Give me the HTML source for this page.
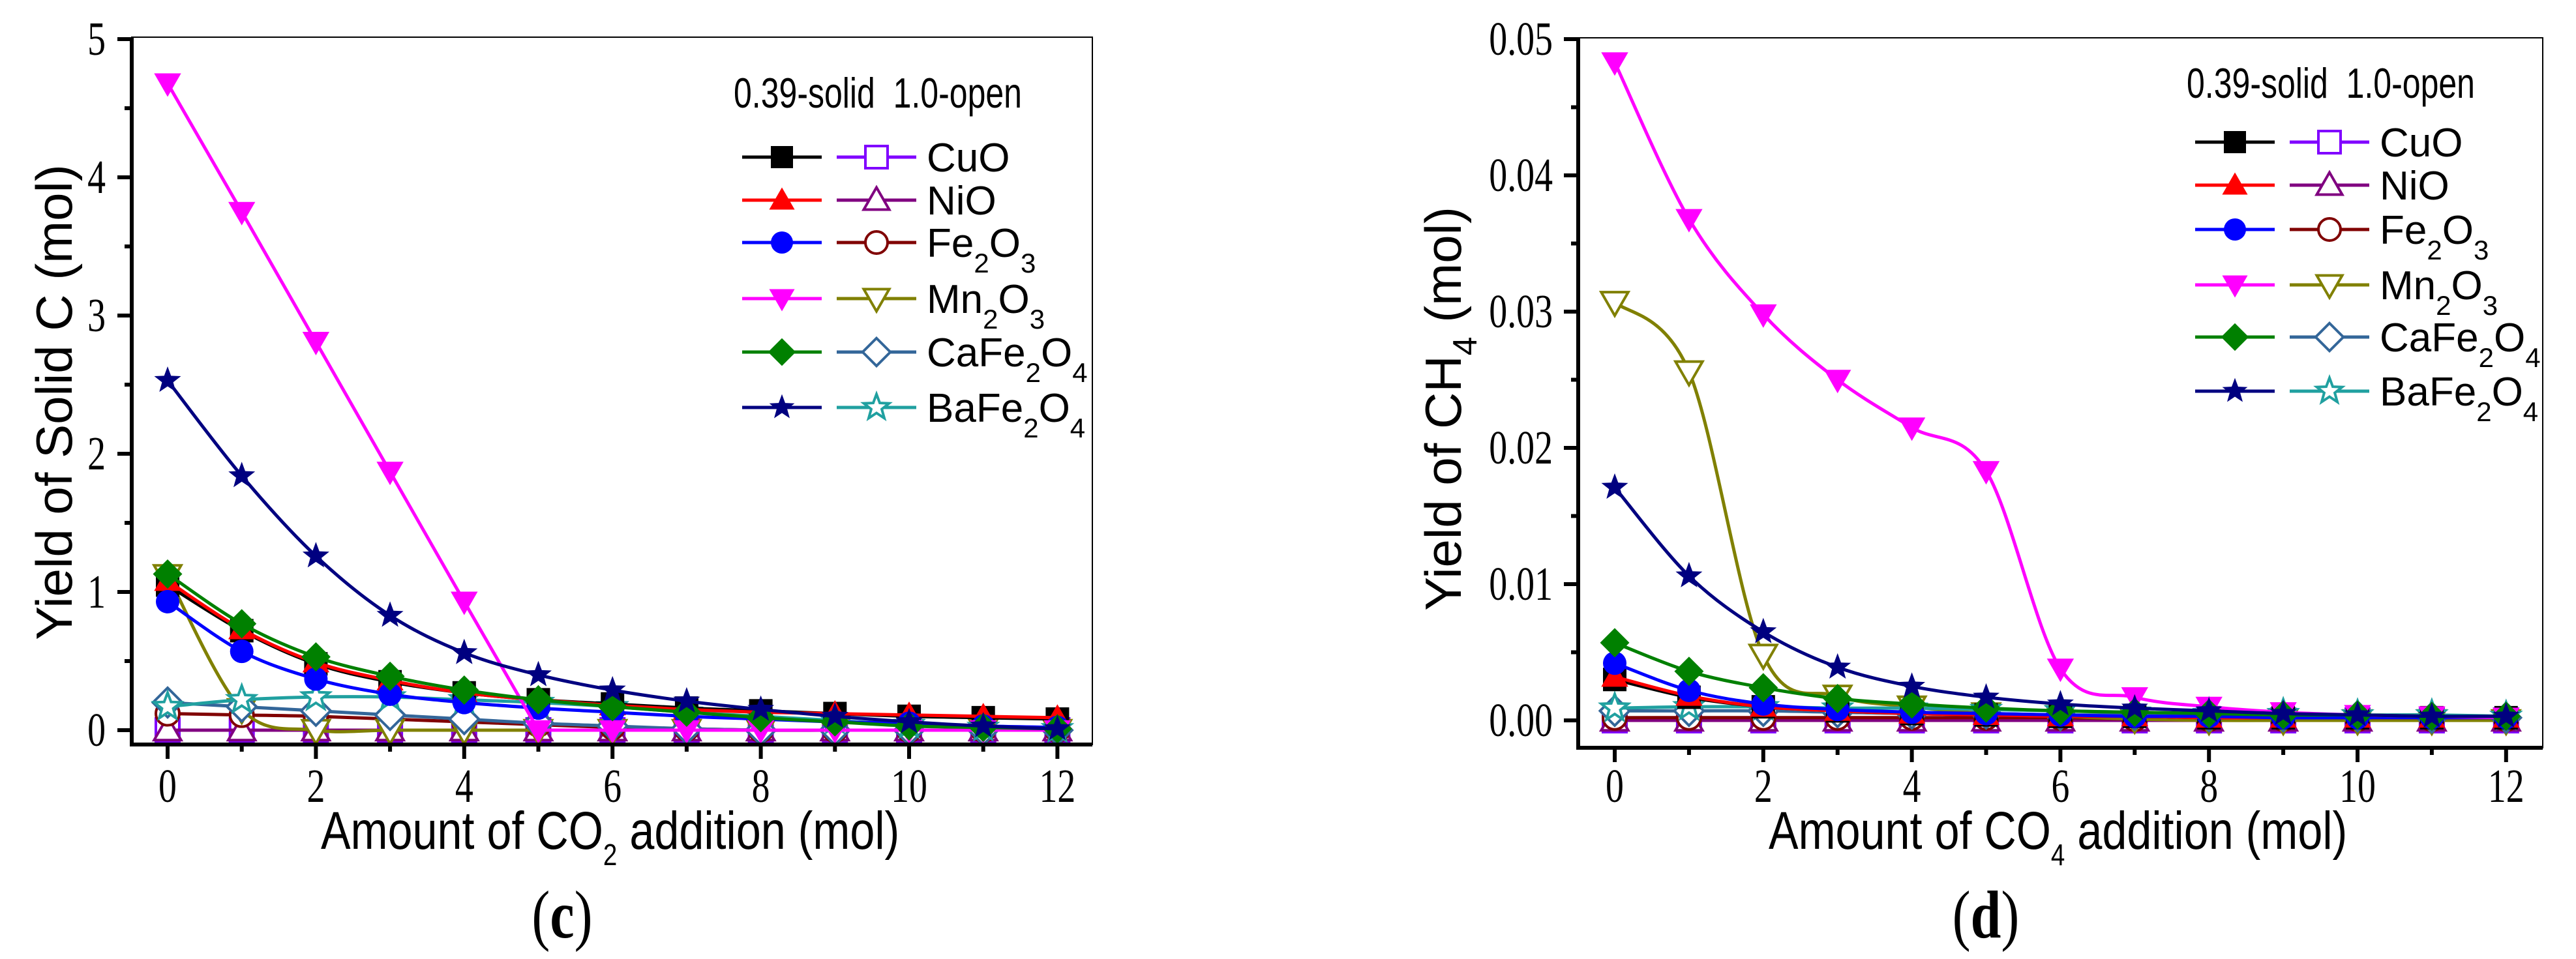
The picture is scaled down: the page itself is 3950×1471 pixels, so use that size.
<!DOCTYPE html>
<html><head><meta charset="utf-8"><style>
html,body{margin:0;padding:0;background:#fff;}
svg{display:block;}
</style></head><body>
<svg id="fig" xmlns="http://www.w3.org/2000/svg" width="3950" height="1471" viewBox="0 0 3950 1471">
<rect x="0" y="0" width="3950" height="1471" fill="#fff"/>
</svg>
<script>
// ---------- data ----------
const xValues = [0,1,2,3,4,5,6,7,8,9,10,11,12];
const materials = ['CuO','NiO','Fe2O3','Mn2O3','CaFe2O4','BaFe2O4'];
const yTicksC = [0,1,2,3,4,5];
const yTickLabelsC = ['0','1','2','3','4','5'];
const yTicksD = [0,0.01,0.02,0.03,0.04,0.05];
const yTickLabelsD = ['0.00','0.01','0.02','0.03','0.04','0.05'];
const xTickLabels = ['0','2','4','6','8','10','12'];

// panel (c) - solid (0.39)
const cSolidCuO = [1.05,0.72,0.48,0.35,0.27,0.22,0.19,0.16,0.14,0.12,0.10,0.09,0.08];
const cSolidNiO = [1.08,0.73,0.49,0.36,0.27,0.22,0.18,0.15,0.13,0.12,0.11,0.10,0.09];
const cSolidFe2O3 = [0.93,0.57,0.37,0.26,0.20,0.16,0.13,0.10,0.08,0.06,0.05,0.03,0.02];
const cSolidMn2O3 = [4.68,3.75,2.81,1.87,0.93,0,0,0,0,0,0,0,0];
const cSolidCaFe2O4 = [1.13,0.77,0.53,0.39,0.29,0.22,0.17,0.13,0.09,0.06,0.03,0.02,0.01];
const cSolidBaFe2O4 = [2.53,1.84,1.26,0.83,0.56,0.40,0.29,0.21,0.15,0.10,0.06,0.03,0.01];
// panel (c) - open (1.0)
const cOpenCuO = [0,0,0,0,0,0,0,0,0,0,0,0,0];
const cOpenNiO = [0,0,0,0,0,0,0,0,0,0,0,0,0];
const cOpenFe2O3 = [0.12,0.11,0.10,0.08,0.06,0.04,0.02,0.01,0,0,0,0,0];
const cOpenMn2O3 = [1.12,0.15,0,0,0,0,0,0,0,0,0,0,0];
const cOpenCaFe2O4 = [0.20,0.17,0.14,0.11,0.08,0.05,0.03,0.01,0,0,0,0,0];
const cOpenBaFe2O4 = [0.17,0.22,0.24,0.24,0.22,0.20,0.17,0.13,0.10,0.07,0.04,0.02,0.01];

// panel (d) - solid
const dSolidCuO = [0.0030,0.0017,0.0010,0.0007,0.0005,0.0004,0.0003,0.0003,0.0002,0.0002,0.0002,0.0002,0.0002];
const dSolidNiO = [0.0032,0.0018,0.0010,0.0007,0.0005,0.0004,0.0003,0.0003,0.0002,0.0002,0.0002,0.0002,0.0002];
const dSolidFe2O3 = [0.0042,0.0022,0.0012,0.0008,0.0006,0.0005,0.0004,0.0003,0.0003,0.0002,0.0002,0.0002,0.0002];
const dSolidMn2O3 = [0.0483,0.0368,0.0298,0.0250,0.0215,0.0183,0.0038,0.0017,0.0010,0.0006,0.0004,0.0003,0.0002];
const dSolidCaFe2O4 = [0.0057,0.0036,0.0024,0.0016,0.0012,0.0009,0.0007,0.0006,0.0005,0.0004,0.0004,0.0003,0.0003];
const dSolidBaFe2O4 = [0.0171,0.0106,0.0065,0.0039,0.0025,0.0017,0.0012,0.0009,0.0007,0.0005,0.0004,0.0003,0.0003];
// panel (d) - open
const dOpenCuO = [0,0,0,0,0,0,0,0,0,0,0,0,0];
const dOpenNiO = [0,0,0,0,0,0,0,0,0,0,0,0,0];
const dOpenFe2O3 = [0.0002,0.0002,0.0002,0.0002,0.0002,0.0002,0.0002,0.0001,0.0001,0.0001,0.0001,0.0001,0.0001];
const dOpenMn2O3 = [0.0307,0.0256,0.0048,0.0018,0.0010,0.0005,0.0003,0.0001,0,0,0,0,0];
const dOpenCaFe2O4 = [0.0007,0.0007,0.0007,0.0006,0.0005,0.0005,0.0004,0.0004,0.0003,0.0003,0.0003,0.0002,0.0002];
const dOpenBaFe2O4 = [0.0009,0.0010,0.0010,0.0009,0.0009,0.0008,0.0007,0.0006,0.0005,0.0005,0.0004,0.0004,0.0003];

// ---------- styles ----------
const solidStyle = [
 {color:'#000000',marker:'square'},{color:'#ff0000',marker:'tri'},{color:'#0000ff',marker:'circle'},
 {color:'#ff00ff',marker:'tridown'},{color:'#008000',marker:'diamond'},{color:'#000080',marker:'star'}];
const openStyle = [
 {color:'#8000ff',marker:'square'},{color:'#800080',marker:'tri'},{color:'#800000',marker:'circle'},
 {color:'#808000',marker:'tridown'},{color:'#336699',marker:'diamond'},{color:'#20a0a0',marker:'star'}];

const NS='http://www.w3.org/2000/svg';
const svg=document.getElementById('fig');
function el(tag,attrs,parent){const e=document.createElementNS(NS,tag);for(const k in attrs)e.setAttribute(k,attrs[k]);(parent||svg).appendChild(e);return e;}
function condense(t,factor,widthFactor){
  const w=t.getComputedTextLength();
  const fs=parseFloat(t.getAttribute('font-size'));
  t.setAttribute('font-size',fs*factor);
  t.setAttribute('textLength',(w*(widthFactor||1)).toFixed(1));
  t.setAttribute('lengthAdjust','spacingAndGlyphs');
}

function markerPath(type,cx,cy,s){
  const r=s/2;
  if(type==='square') return `M${cx-r},${cy-r}h${s}v${s}h${-s}Z`;
  if(type==='tri') return `M${cx},${cy-r*1.15}L${cx+r*1.15},${cy+r*0.85}L${cx-r*1.15},${cy+r*0.85}Z`;
  if(type==='tridown') return `M${cx},${cy+r*1.15}L${cx+r*1.15},${cy-r*0.85}L${cx-r*1.15},${cy-r*0.85}Z`;
  if(type==='diamond') return `M${cx},${cy-r*1.25}L${cx+r*1.25},${cy}L${cx},${cy+r*1.25}L${cx-r*1.25},${cy}Z`;
  if(type==='star'){let d='';for(let i=0;i<10;i++){const a=-Math.PI/2+i*Math.PI/5;const rr=i%2?r*0.5:r*1.2;d+=(i?'L':'M')+(cx+rr*Math.cos(a)).toFixed(1)+','+(cy+rr*Math.sin(a)).toFixed(1);}return d+'Z';}
  return '';
}
function drawMarker(g,type,cx,cy,color,filled,s){
  if(type==='circle'){
    return el('circle',{cx:cx,cy:cy,r:s/2,fill:filled?color:'#fff',stroke:color,'stroke-width':filled?0:4},g);
  }
  return el('path',{d:markerPath(type,cx,cy,s),fill:filled?color:'#fff',stroke:color,'stroke-width':filled?0:4,'stroke-linejoin':'miter'},g);
}
function smoothPath(pts,linear){
  if(linear) return pts.map((p,i)=>(i?'L':'M')+p[0].toFixed(1)+','+p[1].toFixed(1)).join('');
  let d='M'+pts[0][0]+','+pts[0][1];
  for(let i=0;i<pts.length-1;i++){
    const p0=pts[Math.max(0,i-1)],p1=pts[i],p2=pts[i+1],p3=pts[Math.min(pts.length-1,i+2)];
    const c1=[p1[0]+(p2[0]-p0[0])/6,p1[1]+(p2[1]-p0[1])/6];
    const c2=[p2[0]-(p3[0]-p1[0])/6,p2[1]-(p3[1]-p1[1])/6];
    d+=`C${c1[0].toFixed(1)},${c1[1].toFixed(1)} ${c2[0].toFixed(1)},${c2[1].toFixed(1)} ${p2[0].toFixed(1)},${p2[1].toFixed(1)}`;
  }
  return d;
}

function panel(cfg){
  const g=el('g',{});
  
  
  const xs=v=>cfg.x0+v*cfg.xUnit;
  const ys=v=>cfg.y0-(v/cfg.yMax)*(cfg.y0-cfg.yTop);
  const fr=el('rect',{x:cfg.fl,y:cfg.ft,width:cfg.fr-cfg.fl,height:cfg.fb-cfg.ft,fill:'none',stroke:'#000','stroke-width':2},g);
  
  
  const sg=el('g',{},g);
  
  
  const drawSeries=(vals,st,filled,name,linear)=>{
    const s=el('g',{},sg);
    
    
    const pts=vals.map((v,i)=>[xs(xValues[i]),ys(v)]);
    el('path',{d:smoothPath(pts,linear),fill:'none',stroke:st.color,'stroke-width':5,'stroke-linejoin':'round'},s);
    pts.forEach(p=>drawMarker(s,st.marker,p[0],p[1],st.color,filled,36));
  };
  cfg.open.forEach((vals,i)=>drawSeries(vals,openStyle[i],false,'series-open-'+materials[i].toLowerCase(),false));
  cfg.solid.forEach((vals,i)=>drawSeries(vals,solidStyle[i],true,'series-solid-'+materials[i].toLowerCase(),cfg.linearMn&&i===3));
  const ax=el('line',{x1:cfg.fl,y1:cfg.ft,x2:cfg.fl,y2:cfg.fb+3,stroke:'#000','stroke-width':6},g);
  
  
  const bx=el('line',{x1:cfg.fl-3,y1:cfg.fb,x2:cfg.fr,y2:cfg.fb,stroke:'#000','stroke-width':6},g);
  
  
  cfg.yTicks.forEach((v,i)=>{
    const y=ys(v);
    el('line',{x1:cfg.fl-22,y1:y,x2:cfg.fl,y2:y,stroke:'#000','stroke-width':6},g);
    if(i<cfg.yTicks.length-1){const ym=ys(v+cfg.yMax/10);el('line',{x1:cfg.fl-11,y1:ym,x2:cfg.fl,y2:ym,stroke:'#000','stroke-width':6},g);}
    const t=el('text',{x:cfg.yLabelRight,y:y+24,'text-anchor':'end','font-family':'Liberation Serif, serif','font-size':62},g);
    t.textContent=cfg.yLabels[i];
    
    
    condense(t,1.18,0.9);
  });
  xValues.forEach(v=>{
    const x=xs(v);const major=v%2===0;
    el('line',{x1:x,y1:cfg.fb,x2:x,y2:cfg.fb+(major?22:11),stroke:'#000','stroke-width':6},g);
  });
  xTickLabels.forEach(lbl=>{
    const t=el('text',{x:xs(+lbl),y:1230,'text-anchor':'middle','font-family':'Liberation Serif, serif','font-size':62},g);
    t.textContent=lbl;
    
    
    condense(t,1.18,0.9);
  });
  const xt=el('text',{x:cfg.xTitleX,y:1302,'font-family':'Liberation Sans, sans-serif','font-size':68},g);
  xt.innerHTML=`Amount of CO<tspan font-size="46" dy="25">${cfg.sub}</tspan><tspan dy="-25"> addition (mol)</tspan>`;
  
  
  condense(xt,1.2,1.0);
  const yt=el('text',{transform:`translate(${cfg.yTitleX},${cfg.yTitleY}) rotate(-90)`,'text-anchor':'middle','font-family':'Liberation Sans, sans-serif','font-size':78},g);
  yt.innerHTML=cfg.yTitle;
  
  
  const pl=el('text',{x:cfg.labelX,y:1438,'text-anchor':'middle','font-family':'Liberation Serif, serif','font-size':80},g);
  pl.innerHTML=`(<tspan font-weight="bold">${cfg.label}</tspan>)`;
  
  
  condense(pl,1.3,1.05);
  const lg=el('g',{},g);
  
  
  const lt=el('text',{x:cfg.legX-13,y:cfg.legTitleY,'font-family':'Liberation Sans, sans-serif','font-size':50},lg);
  lt.textContent='0.39-solid\u00a0\u00a01.0-open';
  
  
  condense(lt,1.3,1.0);
  const sub=(s)=>`<tspan font-size="42" dy="24">${s}</tspan>`;
  const up=(s)=>`<tspan dy="-24">${s}</tspan>`;
  const labels=['CuO','NiO','Fe'+sub('2')+up('O')+sub('3'),'Mn'+sub('2')+up('O')+sub('3'),
    'CaFe'+sub('2')+up('O')+sub('4'),'BaFe'+sub('2')+up('O')+sub('4')];
  cfg.legRows.forEach((y,i)=>{
    const e=el('g',{},lg);
    
    
    const x=cfg.legX;
    el('line',{x1:x,y1:y,x2:x+122,y2:y,stroke:solidStyle[i].color,'stroke-width':5},e);
    drawMarker(e,solidStyle[i].marker,x+61,y,solidStyle[i].color,true,34);
    el('line',{x1:x+145,y1:y,x2:x+267,y2:y,stroke:openStyle[i].color,'stroke-width':5},e);
    drawMarker(e,openStyle[i].marker,x+206,y,openStyle[i].color,false,34);
    const t=el('text',{x:x+283,y:y+22,'font-family':'Liberation Sans, sans-serif','font-size':62},e);
    t.innerHTML=labels[i];
  });
}

panel({name:'chart-c-solid-carbon',fl:202,fr:1675,ft:57,fb:1142,x0:257,xUnit:113.7,y0:1120,yTop:60,yMax:5,
  yTicks:yTicksC,yLabels:yTickLabelsC,yLabelRight:162,
  solid:[cSolidCuO,cSolidNiO,cSolidFe2O3,cSolidMn2O3,cSolidCaFe2O4,cSolidBaFe2O4],
  open:[cOpenCuO,cOpenNiO,cOpenFe2O3,cOpenMn2O3,cOpenCaFe2O4,cOpenBaFe2O4],linearMn:true,
  sub:'2',xTitleX:492,yTitleX:110,yTitleY:617,yTitle:'Yield of Solid C (mol)',label:'c',labelX:862,
  legX:1138,legTitleY:165,legRows:[241,307,372,458,540,625]});
panel({name:'chart-d-methane',fl:2420,fr:3899,ft:58,fb:1147,x0:2476,xUnit:113.9,y0:1105,yTop:60,yMax:0.05,
  yTicks:yTicksD,yLabels:yTickLabelsD,yLabelRight:2381,
  solid:[dSolidCuO,dSolidNiO,dSolidFe2O3,dSolidMn2O3,dSolidCaFe2O4,dSolidBaFe2O4],
  open:[dOpenCuO,dOpenNiO,dOpenFe2O3,dOpenMn2O3,dOpenCaFe2O4,dOpenBaFe2O4],linearMn:false,
  sub:'4',xTitleX:2712,yTitleX:2240,yTitleY:627,yTitle:'Yield of CH<tspan font-size="52" dy="24">4</tspan><tspan dy="-24"> (mol)</tspan>',label:'d',labelX:3045,
  legX:3366,legTitleY:150,legRows:[218,284,352,437,517,600]});
</script>
</body></html>
